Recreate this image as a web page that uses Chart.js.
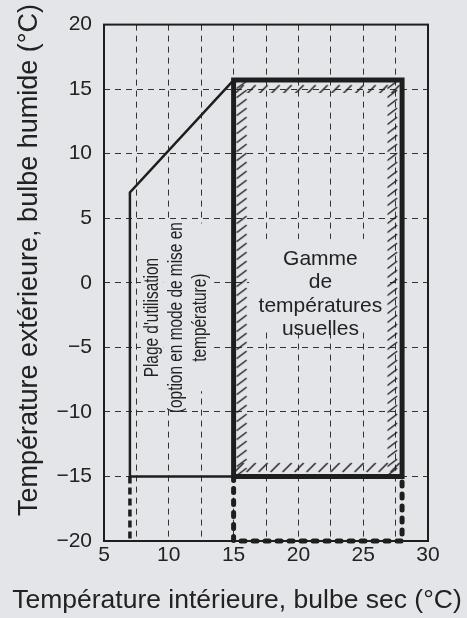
<!DOCTYPE html>
<html>
<head>
<meta charset="utf-8">
<script src="https://cdn.jsdelivr.net/npm/chart.js@4.4.1/dist/chart.umd.min.js"></script>
<style>
  html, body { margin: 0; padding: 0; background: #e4e5e9; }
  #wrap { width: 467px; height: 618px; }
</style>
</head>
<body>
<div id="wrap"><canvas id="chart" width="467" height="618"></canvas></div>
<script>
// Operating range: indoor dry bulb (x) vs outdoor wet bulb (y)

// Thin outline: "Plage d'utilisation"
const plageX = [15, 7, 7, 15];
const plageY = [-15, -15, 7, 15.7];

// Thick box: usual temperature range
const usualX = [15, 15, 28, 28, 15];
const usualY = [-15, 15.7, 15.7, -15, -15];

// Thick dashed extension below -15
const extX = [15, 15, 28, 28];
const extY = [-15, -20, -20, -15];

// Dashed extension of the thin outline
const ext7X = [7, 7];
const ext7Y = [-15, -20];

// Hatched bands inside the usual range (top, bottom, left, right)
const bandX0 = [15, 15, 15, 26.85];
const bandX1 = [28, 28, 16.1, 28];
const bandTop = [15.7, -13.8, 15.7, 15.7];
const bandBase = [14.7, -15, -15, -15];
const bandVertical = [false, false, true, true];

// Text
const plageLines = ["Plage d'utilisation", "(option en mode de mise en", "température)"];
const gammeLines = ['Gamme', 'de', 'températures', 'usuelles'];
const xTitle = 'Température intérieure, bulbe sec (°C)';
const yTitle = 'Température extérieure, bulbe humide (°C)';

const BG = '#e4e5e9';
const INK = '#1e1e1e';
const FONT = '"Liberation Sans", Arial, Helvetica, sans-serif';

function toPts(xs, ys) {
    return xs.map((x, i) => ({ x: x, y: ys[i] }));
}

// short diagonal strokes, one row (or column) per band
const patternCache = {};
function bandPattern(chart, i) {
    const { x, y } = chart.scales;
    const ox = x.getPixelForValue(bandX0[i]);
    const oy = y.getPixelForValue(bandTop[i]);
    const key = i + ':' + Math.round(ox) + ':' + Math.round(oy);
    if (patternCache[key]) return patternCache[key];
    const c = document.createElement('canvas');
    let x0, y0, x1, y1;
    if (bandVertical[i]) {
        c.width = 18; c.height = 9;
        const off = i === 2 ? 3 : 0;
        x0 = off; y0 = 8.5; x1 = off + 10; y1 = 1;
    } else {
        c.width = 12; c.height = 18;
        const off = i === 0 ? 3 : 0;
        x0 = 1; y0 = off + 11; x1 = 10; y1 = off + 2;
    }
    const g = c.getContext('2d');
    g.strokeStyle = '#1a1a1a';
    g.lineWidth = 1.4;
    g.beginPath();
    g.moveTo(x0, y0);
    g.lineTo(x1, y1);
    g.stroke();
    const p = chart.ctx.createPattern(c, 'repeat');
    p.setTransform(new DOMMatrix().translate(ox, oy));
    patternCache[key] = p;
    return p;
}

const lineBase = {
    showLine: true,
    pointRadius: 0,
    fill: false,
    tension: 0,
    borderJoinStyle: 'miter'
};

const datasets = [
    Object.assign({}, lineBase, {
        data: toPts(plageX, plageY),
        borderColor: INK,
        borderWidth: 2.5
    }),
    Object.assign({}, lineBase, {
        data: toPts(usualX, usualY),
        borderColor: INK,
        borderWidth: 5
    }),
    Object.assign({}, lineBase, {
        data: toPts(extX, extY),
        borderColor: INK,
        borderWidth: 5,
        borderDash: [4, 8],
        borderCapStyle: 'round',
        clip: false
    }),
    Object.assign({}, lineBase, {
        data: toPts(ext7X, ext7Y),
        borderColor: INK,
        borderWidth: 3.5,
        borderDash: [7, 4]
    })
];

// hatched bands go last so they are drawn underneath the outlines
bandX0.forEach((x0, i) => {
    datasets.push(Object.assign({}, lineBase, {
        data: [{ x: x0, y: bandTop[i] }, { x: bandX1[i], y: bandTop[i] }],
        borderWidth: 0,
        borderColor: 'rgba(0,0,0,0)',
        backgroundColor: c => bandPattern(c.chart, i),
        fill: { value: bandBase[i] }
    }));
});

// boxes (data units) where the grid is interrupted behind the labels
const backdrops = [
    { x0: 7.85, x1: 9.6, y0: -7.0, y1: 2.4 },
    { x0: 9.6, x1: 11.4, y0: -9.8, y1: 4.8 },
    { x0: 11.4, x1: 13.5, y0: -8.4, y1: 4.6 },
    { x0: 16.2, x1: 26.8, y0: -3.6, y1: 3.4 }
];

const decor = {
    id: 'decor',
    beforeDatasetsDraw(chart) {
        const { ctx, chartArea: a, scales: { x, y } } = chart;
        ctx.save();
        ctx.fillStyle = BG;
        backdrops.forEach(b => {
            const px0 = x.getPixelForValue(b.x0), px1 = x.getPixelForValue(b.x1);
            const py0 = y.getPixelForValue(b.y1), py1 = y.getPixelForValue(b.y0);
            ctx.fillRect(px0, py0, px1 - px0, py1 - py0);
        });
        // plot frame
        ctx.strokeStyle = INK;
        ctx.lineWidth = 2;
        ctx.strokeRect(a.left, a.top, a.right - a.left, a.bottom - a.top);
        ctx.restore();
    },
    afterDatasetsDraw(chart) {
        const { ctx, scales: { x, y } } = chart;
        ctx.save();
        ctx.fillStyle = '#222';

        // usual range label
        ctx.font = '21px ' + FONT;
        ctx.textAlign = 'center';
        ctx.textBaseline = 'middle';
        const gx = x.getPixelForValue(21.7);
        const gy = y.getPixelForValue(-0.9);
        gammeLines.forEach((t, i) => {
            ctx.fillText(t, gx, gy + (i - 1.5) * 23.5);
        });

        // rotated, condensed label
        ctx.font = '20px ' + FONT;
        const px = x.getPixelForValue(10.6);
        const py = y.getPixelForValue(-2.7);
        ctx.translate(px, py);
        ctx.rotate(-Math.PI / 2);
        ctx.scale(0.77, 1);
        plageLines.forEach((t, i) => {
            ctx.fillText(t, 0, (i - 1) * 24);
        });
        ctx.restore();
    },
    afterDraw(chart) {
        const { ctx } = chart;
        ctx.save();
        ctx.fillStyle = '#222';
        ctx.textAlign = 'center';
        ctx.textBaseline = 'middle';
        ctx.font = '26.5px ' + FONT;
        ctx.fillText(xTitle, 237, 601);
        ctx.font = '27px ' + FONT;
        ctx.translate(30, 260);
        ctx.rotate(-Math.PI / 2);
        ctx.fillText(yTitle, 0, 0);
        ctx.restore();
    }
};

function gridColor(edges) {
    return ctx => (ctx.tick && edges.includes(ctx.tick.value)) ? 'rgba(0,0,0,0)' : '#333';
}

new Chart(document.getElementById('chart'), {
    type: 'scatter',
    data: { datasets: datasets },
    options: {
        responsive: false,
        animation: false,
        layout: { padding: { top: 21, right: 39, left: 0, bottom: 0 } },
        plugins: {
            legend: { display: false },
            tooltip: { enabled: false }
        },
        scales: {
            x: {
                type: 'linear',
                min: 5,
                max: 30,
                afterFit: s => { s.height = 77; },
                ticks: {
                    stepSize: 2.5,
                    autoSkip: false,
                    maxRotation: 0,
                    padding: 2,
                    color: '#222',
                    font: { family: FONT, size: 21 },
                    callback: v => (v % 5 === 0 ? String(v) : '')
                },
                grid: { color: gridColor([5, 30]), lineWidth: 1, drawTicks: false },
                border: { display: false, dash: [6, 5] }
            },
            y: {
                type: 'linear',
                min: -20,
                max: 20,
                afterFit: s => { s.width = 104; },
                ticks: {
                    stepSize: 5,
                    padding: 12,
                    color: '#222',
                    font: { family: FONT, size: 21 },
                    callback: v => (v < 0 ? '\u2212' + Math.abs(v) : String(v))
                },
                grid: { color: gridColor([-20, 20]), lineWidth: 1, drawTicks: false },
                border: { display: false, dash: [6, 5] }
            }
        }
    },
    plugins: [decor]
});
</script>
</body>
</html>
